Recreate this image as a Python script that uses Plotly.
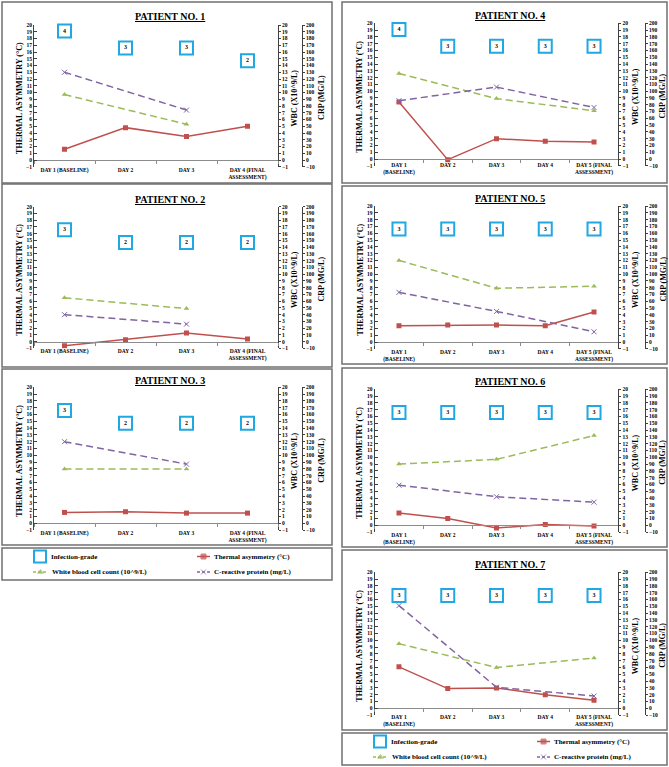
import plotly.graph_objects as go

W, H = 669, 767

# ---------------- data ----------------
DAYS4 = ["DAY 1 (BASELINE)", "DAY 2", "DAY 3", "DAY 4 (FINAL<br>ASSESSMENT)"]
DAYS5 = ["DAY 1<br>(BASELINE)", "DAY 2", "DAY 3", "DAY 4", "DAY 5 (FINAL<br>ASSESSMENT)"]

P1_THERMAL = [1.6, 4.8, 3.5, 5.0]
P1_WBC = [9.7, None, 5.3, None]
P1_CRP = [130, None, 74, None]
P1_GRADE = [4, 3, 3, 2]

P2_THERMAL = [-0.6, 0.3, 1.3, 0.4]
P2_WBC = [6.5, None, 4.9, None]
P2_CRP = [40, None, 26, None]
P2_GRADE = [3, 2, 2, 2]

P3_THERMAL = [1.6, 1.7, 1.5, 1.5]
P3_WBC = [8.0, None, 8.0, None]
P3_CRP = [120, None, 87, None]
P3_GRADE = [3, 2, 2, 2]

P4_THERMAL = [8.4, -0.1, 3.0, 2.6, 2.5]
P4_WBC = [12.6, None, 8.9, None, 7.1]
P4_CRP = [86, None, 106, None, 76]
P4_GRADE = [4, 3, 3, 3, 3]

P5_THERMAL = [2.4, 2.5, 2.5, 2.4, 4.4]
P5_WBC = [12.0, None, 7.9, None, 8.2]
P5_CRP = [73, None, 45, None, 15]
P5_GRADE = [3, 3, 3, 3, 3]

P6_THERMAL = [1.8, 1.0, -0.4, 0.1, -0.1]
P6_WBC = [9.0, None, 9.7, None, 13.2]
P6_CRP = [59, None, 42, None, 34]
P6_GRADE = [3, 3, 3, 3, 3]

P7_THERMAL = [6.1, 2.9, 3.0, 2.0, 1.2]
P7_WBC = [9.5, None, 6.0, None, 7.4]
P7_CRP = [151, None, 31, None, 18]
P7_GRADE = [3, 3, 3, 3, 3]

TITLES = ["PATIENT NO. 1", "PATIENT NO. 2", "PATIENT NO. 3", "PATIENT NO. 4",
          "PATIENT NO. 5", "PATIENT NO. 6", "PATIENT NO. 7"]

LEGEND_LABELS = ["Infection-grade", "Thermal asymmetry (°C)",
                 "White blood cell count (10^9/L)", "C-reactive protein (mg/L)"]

# ---------------- style / layout ----------------
SERIF = "Liberation Serif"
RED, GREEN, PURPLE, CYAN = "#C0504D", "#9BBB59", "#8064A2", "#1FA8E1"
AXIS_COL = "#404040"
BOX_COL = "#707070"
GRADE_BOX_Y = {2: 14.7, 3: 16.6, 4: 19.1}

DATA = [
    (DAYS4, P1_THERMAL, P1_WBC, P1_CRP, P1_GRADE),
    (DAYS4, P2_THERMAL, P2_WBC, P2_CRP, P2_GRADE),
    (DAYS4, P3_THERMAL, P3_WBC, P3_CRP, P3_GRADE),
    (DAYS5, P4_THERMAL, P4_WBC, P4_CRP, P4_GRADE),
    (DAYS5, P5_THERMAL, P5_WBC, P5_CRP, P5_GRADE),
    (DAYS5, P6_THERMAL, P6_WBC, P6_CRP, P6_GRADE),
    (DAYS5, P7_THERMAL, P7_WBC, P7_CRP, P7_GRADE),
]

LEFT = dict(bx0=2, bx1=332, px0=34, px1=278, crp=302, ttl=170, yt=20, wt=294.5, ct=322)
RIGHT = dict(bx0=342, bx1=667, px0=374.6, px1=618.4, crp=645, ttl=510, yt=360, wt=635.5, ct=663)

# per panel: column, box top, box bottom, y of "20", y of "-1", title y, label standoff
PANELS = [
    (LEFT, 2, 183, 25.0, 166.8, 17, 4),
    (LEFT, 184, 367, 206.7, 348.4, 199, 4),
    (LEFT, 369, 545, 387.3, 530.1, 380, 4),
    (RIGHT, 2, 183, 23.3, 165.8, 15, 0),
    (RIGHT, 186, 364, 206.0, 348.8, 198, 4),
    (RIGHT, 368, 547, 389.3, 532.1, 381, 4),
    (RIGHT, 550, 730, 572.3, 715.1, 564, 3),
]

TH_RANGE = [-1, 20]
WBC_RANGE = [-1, 20]
CRP_RANGE = [-10, 200]


def fx(px):
    return px / W


def fy(py):
    return 1 - py / H


fig = go.Figure()
layout = dict(
    template="none",
    width=W, height=H, margin=dict(l=0, r=0, t=0, b=0, pad=0),
    paper_bgcolor="white", plot_bgcolor="rgba(0,0,0,0)",
    showlegend=False, font=dict(family=SERIF, color="black"),
    hovermode="closest",
)
shapes, annotations = [], []

tickfont = dict(family=SERIF, size=5.5, color="black", weight="bold")

for p, ((days, th, wbc, crp, grade), (col, bt, bb, ytop, ybot, tty, stand)) in enumerate(zip(DATA, PANELS)):
    xi = p + 1
    ya, yb, yc = 3 * p + 1, 3 * p + 2, 3 * p + 3
    xname = f"x{xi}" if xi > 1 else "x"
    yaname = f"y{ya}" if ya > 1 else "y"
    dom_y = [fy(ybot), fy(ytop)]
    dom_x = [fx(col["px0"]), fx(col["px1"])]
    zero_frac = dom_y[0] + (0 - TH_RANGE[0]) / (TH_RANGE[1] - TH_RANGE[0]) * (dom_y[1] - dom_y[0])

    layout[f"xaxis{xi}"] = dict(
        domain=dom_x, anchor="free", position=zero_frac, type="category",
        categoryorder="array", categoryarray=days, range=[-0.5, len(days) - 0.5],
        showline=True, linecolor="#8C8C8C", linewidth=1, showgrid=False, zeroline=False,
        ticks="outside", tickson="boundaries", ticklen=3, tickcolor="#8C8C8C",
        tickfont=dict(family=SERIF, size=5.5, color="black", weight="bold"),
        ticklabelstandoff=stand, fixedrange=True, automargin=False,
    )
    layout[f"yaxis{ya}"] = dict(
        domain=dom_y, anchor=xname, range=TH_RANGE, tick0=0, dtick=1,
        showline=True, linecolor=AXIS_COL, linewidth=1, showgrid=False, zeroline=False,
        ticks="inside", ticklen=3, tickcolor=AXIS_COL, tickfont=tickfont, automargin=False,
    )
    layout[f"yaxis{yb}"] = dict(
        domain=dom_y, anchor=xname, overlaying=yaname, side="right", range=WBC_RANGE,
        tick0=0, dtick=1, showline=True, linecolor=AXIS_COL, linewidth=1,
        showgrid=False, zeroline=False, ticks="outside", ticklen=2, tickcolor=AXIS_COL,
        tickfont=tickfont, automargin=False,
    )
    layout[f"yaxis{yc}"] = dict(
        domain=dom_y, anchor="free", position=fx(col["crp"]), overlaying=yaname, side="right",
        range=CRP_RANGE, tick0=0, dtick=10, showline=True, linecolor=AXIS_COL, linewidth=1,
        showgrid=False, zeroline=False, ticks="outside", ticklen=2, tickcolor=AXIS_COL,
        tickfont=tickfont, automargin=False,
    )

    fig.add_trace(go.Scatter(
        x=days, y=th, xaxis=xname, yaxis=yaname, mode="lines+markers",
        line=dict(color=RED, width=1.5), marker=dict(symbol="square", size=5, color=RED),
        name=LEGEND_LABELS[1],
    ))
    fig.add_trace(go.Scatter(
        x=days, y=wbc, xaxis=xname, yaxis=f"y{yb}", mode="lines+markers", connectgaps=True,
        line=dict(color=GREEN, width=1.5, dash="7px,4px"),
        marker=dict(symbol="triangle-up", size=5, color=GREEN), name=LEGEND_LABELS[2],
    ))
    fig.add_trace(go.Scatter(
        x=days, y=crp, xaxis=xname, yaxis=f"y{yc}", mode="lines+markers", connectgaps=True,
        line=dict(color=PURPLE, width=1.5, dash="7px,4px"),
        marker=dict(symbol="x-thin", size=5, color=PURPLE, line=dict(color=PURPLE, width=1)),
        name=LEGEND_LABELS[3],
    ))
    fig.add_trace(go.Scatter(
        x=days, y=[GRADE_BOX_Y[g] for g in grade], xaxis=xname, yaxis=yaname,
        mode="markers+text", text=[str(g) for g in grade], textposition="middle center",
        textfont=dict(family=SERIF, size=6, color="black", weight="bold"),
        marker=dict(symbol="square", size=13, color="white", line=dict(color=CYAN, width=2)),
        name=LEGEND_LABELS[0], cliponaxis=False,
    ))

    # panel frame
    shapes.append(dict(type="rect", xref="paper", yref="paper",
                       x0=fx(col["bx0"]), x1=fx(col["bx1"]), y0=fy(bb), y1=fy(bt),
                       line=dict(color=BOX_COL, width=1.5), layer="below"))
    # titles
    annotations.append(dict(xref="paper", yref="paper", x=fx(col["ttl"]), y=fy(tty),
                            text=f"<b><u>{TITLES[p]}</u></b>", showarrow=False,
                            xanchor="center", yanchor="middle",
                            font=dict(family=SERIF, size=10, color="black")))
    ymid = fy((ytop + ybot) / 2 + 2)
    for xpos, txt in ((col["yt"], "THERMAL ASYMMETRY (°C)"),
                      (col["wt"], "WBC (X10^9/L)"),
                      (col["ct"], "CRP (MG/L)")):
        annotations.append(dict(xref="paper", yref="paper", x=fx(xpos), y=ymid,
                                text=f"<b>{txt}</b>", showarrow=False, textangle=-90,
                                xanchor="center", yanchor="middle",
                                font=dict(family=SERIF, size=8, color="black")))

# ---------------- legends (drawn manually, two copies) ----------------
LEG_BOXES = [(2, 548, 332, 580), (342, 733, 667, 765)]
layout["xaxis8"] = dict(domain=[0, 1], range=[0, W], visible=False, fixedrange=True, automargin=False)
layout["yaxis22"] = dict(domain=[0, 1], range=[H, 0], anchor="x8", visible=False,
                         fixedrange=True, automargin=False)
legfont = dict(family=SERIF, size=7, color="black", weight="bold")
for (lx0, ly0, lx1, ly1) in LEG_BOXES:
    shapes.append(dict(type="rect", xref="paper", yref="paper",
                       x0=fx(lx0), x1=fx(lx1), y0=fy(ly1), y1=fy(ly0),
                       line=dict(color=BOX_COL, width=1.5), layer="below"))
    r1, r2 = ly0 + 8.5, ly0 + 24
    fig.add_trace(go.Scatter(x=[lx0 + 38], y=[r1], xaxis="x8", yaxis="y22", mode="markers",
                             marker=dict(symbol="square", size=12, color="white",
                                         line=dict(color=CYAN, width=2)), hoverinfo="skip"))
    for (cx0, cx1, ry, colr, dash, sym) in (
        (lx0 + 195, lx0 + 208, r1, RED, "solid", "square"),
        (lx0 + 31, lx0 + 46, r2, GREEN, "3px,2px", "triangle-up"),
        (lx0 + 195, lx0 + 208, r2, PURPLE, "3px,2px", "x-thin"),
    ):
        fig.add_trace(go.Scatter(
            x=[cx0, (cx0 + cx1) / 2, cx1], y=[ry, ry, ry], xaxis="x8", yaxis="y22",
            mode="lines+markers", line=dict(color=colr, width=1.5, dash=dash),
            marker=dict(symbol=sym, size=[0, 5, 0], color=colr, line=dict(color=colr, width=1)),
            hoverinfo="skip"))
    for (tx, ty, txt) in ((lx0 + 47, r1, LEGEND_LABELS[0]), (lx0 + 210, r1, LEGEND_LABELS[1]),
                          (lx0 + 48, r2, LEGEND_LABELS[2]), (lx0 + 210, r2, LEGEND_LABELS[3])):
        annotations.append(dict(xref="paper", yref="paper", x=fx(tx), y=fy(ty), text=txt,
                                showarrow=False, xanchor="left", yanchor="middle", font=legfont))

layout["shapes"] = shapes
layout["annotations"] = annotations
fig.update_layout(**layout)
fig.write_html(
    "out.html",
    config={"displayModeBar": False},
    post_script="document.body.style.margin='0';document.body.style.overflow='hidden';",
)
